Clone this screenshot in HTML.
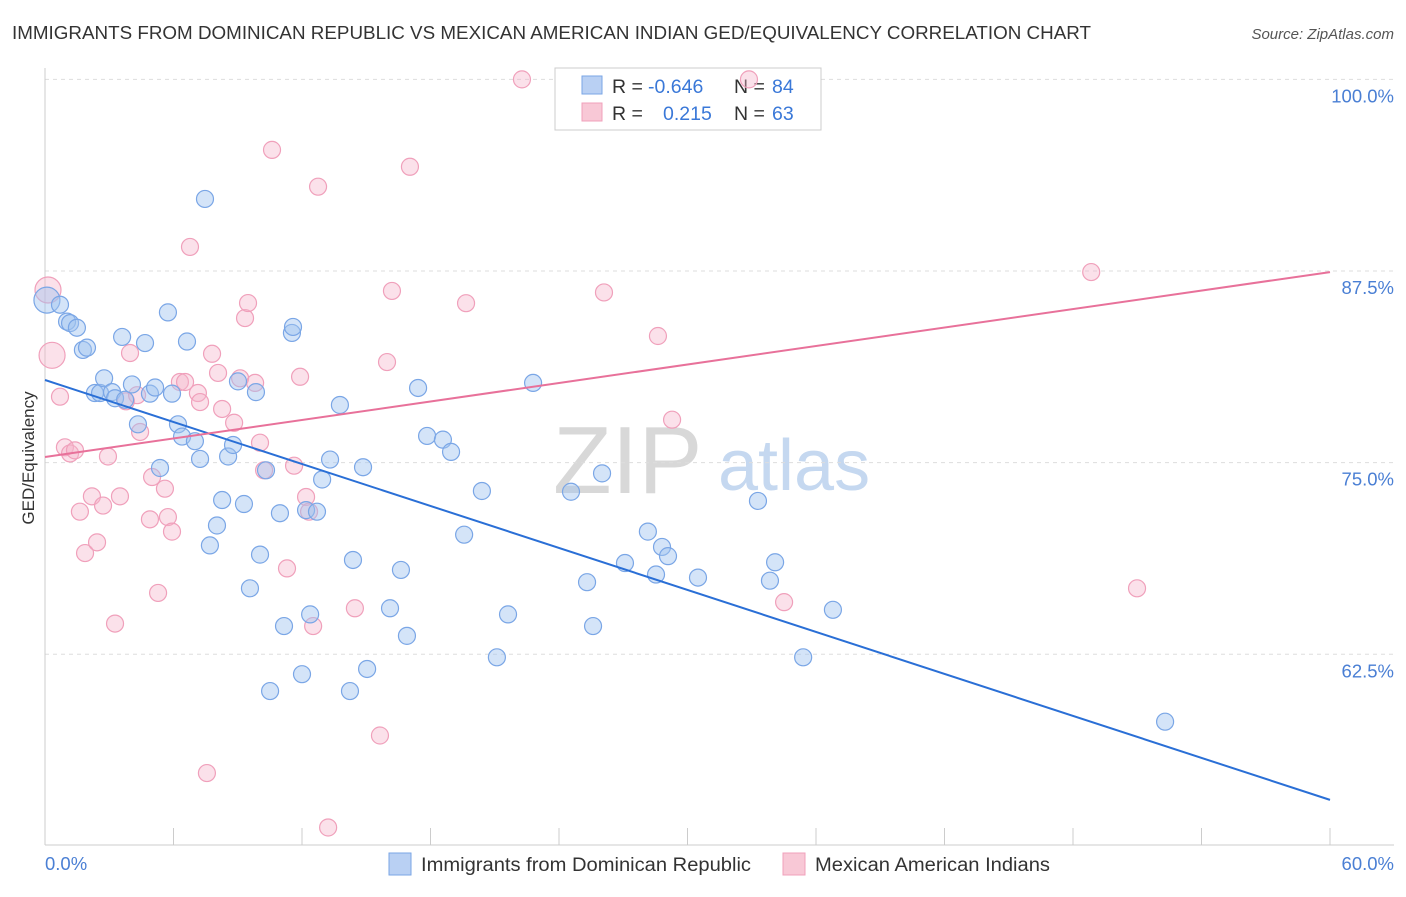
<!DOCTYPE html>
<html><head><meta charset="utf-8"><style>
body{margin:0;background:#fff;font-family:"Liberation Sans",sans-serif;}
svg text{font-family:"Liberation Sans",sans-serif;}
</style></head><body>
<svg id="chart" width="1406" height="892" xmlns="http://www.w3.org/2000/svg">
<text x="12" y="39" font-size="18" fill="#333" textLength="1079" lengthAdjust="spacingAndGlyphs">IMMIGRANTS FROM DOMINICAN REPUBLIC VS MEXICAN AMERICAN INDIAN GED/EQUIVALENCY CORRELATION CHART</text>
<text x="1394" y="39" font-size="15" fill="#555" text-anchor="end" font-style="italic">Source: ZipAtlas.com</text>
<g>
<text x="553" y="493" font-size="96" fill="#d8d8d8" font-family="Liberation Serif, serif">ZIP</text>
<text x="718" y="490" font-size="72" fill="#c5d8f0">atlas</text>
</g>
<g id="grid"></g>
<g id="axes"></g>
<g>
<rect x="555" y="68" width="266" height="62" fill="#fff" stroke="#ccc"/>
<rect x="582" y="76" width="20" height="18" fill="#b9d0f3" stroke="#7aa6e6"/>
<rect x="582" y="103" width="20" height="18" fill="#f8c8d6" stroke="#f0a0bb"/>
<text x="612" y="93" font-size="19.5" fill="#333">R = </text>
<text x="648" y="93" font-size="19.5" fill="#3a78d8">-0.646</text>
<text x="734" y="93" font-size="19.5" fill="#333">N = </text>
<text x="772" y="93" font-size="19.5" fill="#3a78d8">84</text>
<text x="612" y="120" font-size="19.5" fill="#333">R = </text>
<text x="663" y="120" font-size="19.5" fill="#3a78d8">0.215</text>
<text x="734" y="120" font-size="19.5" fill="#333">N = </text>
<text x="772" y="120" font-size="19.5" fill="#3a78d8">63</text>
</g>
<g id="pts"></g>
<g id="lines"></g>
<text transform="translate(34,458) rotate(-90)" font-size="17" fill="#333" text-anchor="middle">GED/Equivalency</text>
<text x="45" y="870" font-size="18.5" fill="#4a7fd4">0.0%</text>
<text x="1394" y="870" font-size="18.5" fill="#4a7fd4" text-anchor="end">60.0%</text>
<g>
<rect x="389" y="853" width="22" height="22" fill="#b9d0f3" stroke="#7aa6e6"/>
<text x="421" y="871" font-size="19" fill="#333" textLength="330" lengthAdjust="spacingAndGlyphs">Immigrants from Dominican Republic</text>
<rect x="783" y="853" width="22" height="22" fill="#f8c8d6" stroke="#f0a0bb"/>
<text x="815" y="871" font-size="19" fill="#333" textLength="235" lengthAdjust="spacingAndGlyphs">Mexican American Indians</text>
</g>
</svg>
<script>
const yTicks=[100,87.5,75,62.5];
const yTickLabels=["100.0%","87.5%","75.0%","62.5%"];
const xTicks=[0,6,12,18,24,30,36,42,48,54,60];
const blueX=[0.09,0.70,1.03,1.17,1.49,1.77,1.96,2.33,2.57,2.76,3.13,3.27,3.60,3.74,4.06,4.34,4.67,4.90,5.14,5.37,5.74,5.93,6.21,6.40,6.63,7.00,7.24,7.47,7.70,8.03,8.27,8.55,8.78,9.01,9.29,9.57,9.85,10.04,10.32,10.51,10.97,11.16,11.53,11.58,12.00,12.19,12.38,12.70,12.94,13.31,13.77,14.24,14.38,14.85,15.04,16.11,16.62,16.90,17.42,17.84,18.58,18.96,19.57,20.40,21.10,21.62,22.79,24.56,25.31,25.59,26.01,27.08,28.15,28.53,28.81,29.09,30.49,33.29,33.85,34.09,35.40,36.79,52.30];
const blueY=[85.6,85.3,84.2,84.1,83.8,82.35,82.5,79.54,79.54,80.5,79.6,79.2,83.2,79.1,80.1,77.5,82.8,79.5,79.9,74.65,84.8,79.5,77.5,76.7,82.9,76.4,75.24,92.2,69.6,70.9,72.56,75.4,76.15,80.3,72.3,66.8,79.6,69.0,74.5,60.1,71.7,64.34,83.46,83.85,61.2,71.9,65.1,71.8,73.9,75.2,78.76,60.1,68.65,74.7,61.54,65.5,68.0,63.7,79.87,76.74,76.5,75.7,70.3,73.15,62.3,65.1,80.2,73.1,67.2,64.34,74.3,68.45,70.5,67.7,69.5,68.9,67.5,72.5,67.3,68.5,62.3,65.4,58.1];
const pinkX=[0.14,0.33,0.70,0.93,1.17,1.40,1.63,1.87,2.19,2.43,2.71,2.94,3.27,3.50,3.78,3.97,4.30,4.44,4.90,5.00,5.28,5.60,5.74,5.93,6.30,6.54,6.77,7.14,7.24,7.56,7.80,8.08,8.27,8.83,9.11,9.34,9.48,9.81,10.04,10.23,10.60,11.30,11.63,11.91,12.19,12.33,12.52,12.75,13.22,14.47,15.64,15.97,16.20,17.04,19.66,22.27,26.10,28.62,29.28,32.87,34.51,48.85,50.99];
const pinkY=[86.26,82.0,79.3,76.0,75.6,75.8,71.8,69.1,72.8,69.8,72.2,75.4,64.5,72.8,79.0,82.15,79.4,77.0,71.3,74.06,66.5,73.3,71.45,70.5,80.26,80.26,89.07,79.54,78.95,54.75,82.1,80.85,78.5,77.6,80.5,84.43,85.41,80.2,76.3,74.5,95.4,68.1,74.8,80.6,72.76,71.8,64.34,93.0,51.2,65.5,57.2,81.56,86.2,94.3,85.4,100.0,86.1,83.26,77.8,100.0,65.9,87.43,66.8];
const pinkBig=[0,1];
const blueBig=[0];
// trend lines [value at 0%, slope per %]
const blueTrend=[80.39,-0.4565];
const pinkTrend=[75.37,0.201];

const NS="http://www.w3.org/2000/svg";
const X0=45,X1=1330;
function sx(v){return X0+(v/60)*(X1-X0);}
function sy(v){return 271+(87.5-v)*15.33;}
function mk(tag,attrs,parent){const e=document.createElementNS(NS,tag);for(const k in attrs)e.setAttribute(k,attrs[k]);parent.appendChild(e);return e;}
const grid=document.getElementById('grid'),axes=document.getElementById('axes'),pts=document.getElementById('pts'),lines=document.getElementById('lines');
yTicks.forEach((t,i)=>{
 const l=mk('line',{x1:X0,x2:1394,y1:sy(t),y2:sy(t),stroke:'#ddd','stroke-dasharray':'4,4'},grid);
 
 
 const tx=mk('text',{x:1394,y:sy(t)+23,'font-size':18.5,fill:'#4a7fd4','text-anchor':'end'},grid);
 tx.textContent=yTickLabels[i];
 
 
});
const ya=mk('line',{x1:X0,x2:X0,y1:68,y2:845,stroke:'#ccc'},axes);


const xa=mk('line',{x1:X0,x2:1394,y1:845,y2:845,stroke:'#ccc'},axes);


xTicks.forEach(t=>{
 const l=mk('line',{x1:sx(t),x2:sx(t),y1:828,y2:845,stroke:'#ccc'},axes);
 
 
});
function drawPts(xs,ys,big,fill,stroke,name){
 xs.forEach((x,i)=>{
  const r=big.includes(i)?13:8.5;
  const c=mk('circle',{cx:sx(x),cy:sy(ys[i]),r:r,fill:fill,stroke:stroke,'stroke-width':1.2},pts);
  
  
 });
}
drawPts(pinkX,pinkY,pinkBig,'rgba(246,180,202,0.4)','#f0a0bb','point-mexican-american-indian');
drawPts(blueX,blueY,blueBig,'rgba(160,195,240,0.45)','#7aa6e6','point-dominican');
function drawLine(tr,color,name){const a=tr[0],b=tr[1];const l=mk('line',{x1:sx(0),y1:sy(a),x2:sx(60),y2:sy(a+b*60),stroke:color,'stroke-width':2},lines);
 
 }
drawLine(blueTrend,'#2a6fd6','trendline-dominican');
drawLine(pinkTrend,'#e8719a','trendline-mexican-american-indian');
</script>
</body></html>
